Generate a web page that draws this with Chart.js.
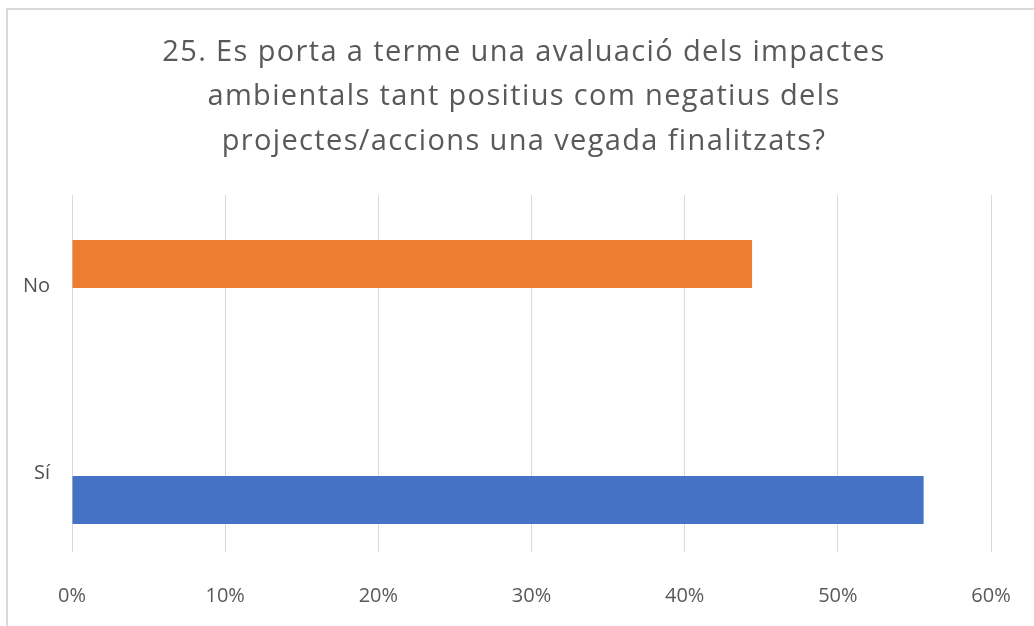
<!DOCTYPE html>
<html>
<head>
<meta charset="utf-8">
<title>Avaluació dels impactes ambientals</title>
<script src="https://cdn.jsdelivr.net/npm/chart.js@4/dist/chart.umd.min.js"></script>
<style>
  html, body { margin: 0; padding: 0; background: #ffffff; overflow: hidden; }
  #wrap { position: relative; width: 1034px; height: 626px; }
  #frame {
    position: absolute; left: 6px; top: 8px; width: 1100px; height: 700px;
    border-left: 2px solid #d9d9d9; border-top: 2px solid #d9d9d9;
    pointer-events: none;
  }
  canvas { position: absolute; left: 0; top: 0; }
</style>
</head>
<body>
<div id="wrap">
  <canvas id="chart" width="1034" height="626"></canvas>
  <div id="frame"></div>
</div>
<script>
// Answer categories (top to bottom) and the share of responses for each
const categories = ['No', 'Sí'];
const noValues = [44.4, null];
const siValues = [null, 55.6];
const xTicks = [0, 10, 20, 30, 40, 50, 60];
const titleLines = [
  '25. Es porta a terme una avaluació dels impactes',
  'ambientals tant positius com negatius dels',
  'projectes/accions una vegada finalitzats?'
];

const textColor = '#595959';
const gridColor = '#d9d9d9';
const fontFamily = '"Open Sans", Lato, sans-serif';

// Category axis runs from half a slot above "No" to a little below "Sí"
const yStart = -0.5;
const yEnd = 1.409;

const chart = new Chart(document.getElementById('chart'), {
  type: 'bar',
  data: {
    labels: categories,
    datasets: [
      { label: 'No', data: noValues, backgroundColor: '#ED7D31', borderWidth: 0 },
      { label: 'Sí', data: siValues, backgroundColor: '#4472C4', borderWidth: 0 }
    ]
  },
  options: {
    indexAxis: 'y',
    responsive: false,
    animation: false,
    devicePixelRatio: 1,
    categoryPercentage: 0.524,
    barPercentage: 0.98,
    layout: { padding: { left: 14, right: 0, top: 0, bottom: 0 } },
    plugins: {
      legend: { display: false },
      tooltip: { enabled: false },
      title: {
        display: true,
        text: titleLines,
        color: textColor,
        font: { family: fontFamily, size: 29, weight: 'normal', lineHeight: '44.5px' },
        padding: { top: 30, bottom: 31.5 }
      }
    },
    scales: {
      x: {
        min: 0,
        max: 60,
        afterBuildTicks: (scale) => { scale.ticks = xTicks.map(v => ({ value: v })); },
        afterFit: (scale) => { scale.height = 74; scale.paddingLeft = 0; scale.paddingRight = 43; },
        grid: { color: gridColor, lineWidth: 1, drawTicks: false },
        border: { display: false },
        ticks: {
          color: textColor,
          font: { family: fontFamily, size: 20 },
          padding: 32,
          callback: (v) => v + '%'
        }
      },
      y: {
        afterBuildTicks: (scale) => {
          scale._startValue = yStart;
          scale._valueRange = yEnd - yStart;
        },
        afterFit: (scale) => { scale.width = 58; },
        grid: { display: false },
        border: { display: false },
        ticks: {
          color: '#505050',
          font: { family: fontFamily, size: 20 },
          padding: 14,
          labelOffset: -2
        }
      }
    }
  }
});

// The title is set with slightly looser letter spacing
const titleBox = chart.titleBlock;
const drawTitle = titleBox.draw.bind(titleBox);
titleBox.draw = function () {
  const ctx = chart.ctx;
  ctx.save();
  ctx.letterSpacing = '1.36px';
  drawTitle();
  ctx.restore();
};
chart.draw();
</script>
</body>
</html>
